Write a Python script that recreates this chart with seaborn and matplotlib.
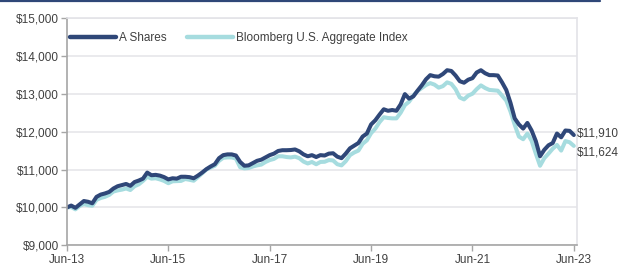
import numpy as np
import pandas as pd
import matplotlib
matplotlib.use("Agg")
import matplotlib.pyplot as plt
import seaborn as sns
from matplotlib.lines import Line2D

sns.set_theme(style="white")
plt.rcParams['font.family'] = ['Liberation Sans', 'DejaVu Sans']

a_shares = [
    10000, 10050, 9990, 10080, 10170, 10150, 10110, 10280, 10340, 10370,
    10410, 10500, 10560, 10590, 10620, 10570, 10670, 10710, 10760, 10920,
    10850, 10860, 10840, 10800, 10740, 10770, 10760, 10810, 10810, 10800,
    10770, 10840, 10920, 11010, 11080, 11140, 11300, 11380, 11400, 11400,
    11370, 11200, 11100, 11110, 11170, 11230, 11260, 11320, 11380, 11420,
    11490, 11510, 11510, 11515, 11530, 11480, 11400, 11350, 11380, 11330,
    11380, 11370, 11420, 11430, 11340, 11300, 11420, 11560, 11630, 11700,
    11870, 11950, 12190, 12300, 12450, 12590, 12550, 12570, 12550, 12720,
    12990, 12870, 12930, 13080, 13220, 13380, 13490, 13460, 13450, 13520,
    13620, 13600, 13480, 13330, 13290, 13370, 13410, 13560, 13620, 13540,
    13490, 13490, 13480, 13300, 13100, 12760, 12350, 12190, 12080, 12230,
    12030, 11750, 11350, 11520, 11640, 11700, 11950, 11850, 12030, 12020,
    11910,
]
bloomberg_agg = [
    10000, 10010, 9950, 10040, 10090, 10060, 10045, 10200, 10250, 10280,
    10330, 10420, 10450, 10470, 10500, 10460, 10560, 10610, 10700, 10810,
    10760, 10770, 10740, 10700, 10640, 10690, 10695, 10700, 10750, 10730,
    10705, 10800, 10900, 11000, 11050, 11100, 11230, 11310, 11320, 11320,
    11290, 11060, 11030, 11040, 11080, 11110, 11130, 11200, 11250, 11280,
    11350, 11350, 11330, 11320, 11340, 11300, 11210, 11160, 11200, 11140,
    11200, 11205, 11250, 11240, 11140, 11110, 11220, 11380, 11450, 11500,
    11680, 11770, 11960, 12080, 12250, 12380, 12360, 12350, 12350, 12500,
    12700, 12790, 12950, 13070, 13150, 13230, 13280, 13240, 13160, 13200,
    13300, 13260, 13120, 12900, 12850, 12950, 13000, 13120, 13220, 13150,
    13100, 13090, 13080, 12950, 12820, 12530, 12180, 11870, 11800, 11950,
    11760, 11420, 11100, 11300, 11420, 11550, 11650, 11500, 11750, 11720,
    11624,
]
series_names = ["A Shares", "Bloomberg U.S. Aggregate Index"]
x_tick_labels = ["Jun-13", "Jun-15", "Jun-17", "Jun-19", "Jun-21", "Jun-23"]
y_ticks = [9000, 10000, 11000, 12000, 13000, 14000, 15000]
end_labels = ["$11,910", "$11,624"]

n = len(a_shares)
month = np.arange(n)
df = pd.DataFrame({
    "month": np.concatenate([month, month]),
    "value": a_shares + bloomberg_agg,
    "series": [series_names[0]] * n + [series_names[1]] * n,
})

dark = "#2F4778"
light = "#A6DCDF"
palette = {series_names[0]: dark, series_names[1]: light}

fig = plt.figure(figsize=(6.2, 2.67), dpi=100)
ax = fig.add_axes([0.108, 0.081, 0.823, 0.852])

sns.lineplot(data=df, x="month", y="value", hue="series", palette=palette,
             hue_order=[series_names[1], series_names[0]],
             linewidth=2.9, ax=ax, legend=False)

ax.set_xlim(0, 120.8)
ax.set_ylim(9000, 15000)
ax.set_yticks(y_ticks)
ax.set_yticklabels([f"${v:,.0f}" for v in y_ticks])
ax.set_xticks(np.arange(0, 121, 24))
ax.set_xticklabels(x_tick_labels)
ax.set_xlabel("")
ax.set_ylabel("")

ax.yaxis.grid(True, color="#E6E6EA", linewidth=1.2)
ax.set_axisbelow(True)
for s in ["top", "right"]:
    ax.spines[s].set_color("#E3E3E8")
    ax.spines[s].set_linewidth(1.2)
for s in ["left", "bottom"]:
    ax.spines[s].set_color("#A6A6A6")
    ax.spines[s].set_linewidth(1.2)

ax.tick_params(axis="both", which="both", colors="#A6A6A6", labelcolor="#404040",
               labelsize=8.5, length=4, width=1, direction="out",
               left=True, bottom=True)
ax.tick_params(axis="x", pad=2)
ax.tick_params(axis="y", pad=2)

handles = [Line2D([0], [0], color=dark, lw=3.2, solid_capstyle="round"),
           Line2D([0], [0], color=light, lw=3.2, solid_capstyle="round")]
ax.legend(handles, series_names, loc="upper left", bbox_to_anchor=(-0.003, 0.96),
          ncol=2, frameon=False, fontsize=8.5, handlelength=3.9,
          handletextpad=0.25, columnspacing=1.7, borderaxespad=0.0,
          labelcolor="#404040")

ax.annotate(end_labels[0], xy=(n - 1, a_shares[-1]), xytext=(2, 1),
            textcoords="offset points", va="center", ha="left",
            fontsize=8.5, color="#404040", annotation_clip=False)
ax.annotate(end_labels[1], xy=(n - 1, bloomberg_agg[-1]), xytext=(2, -5),
            textcoords="offset points", va="center", ha="left",
            fontsize=8.5, color="#404040", annotation_clip=False)

fig.add_artist(Line2D([0, 0.968], [0.996, 0.996], color="#2F4778",
                      lw=1.6, transform=fig.transFigure))

fig.savefig("out.png", dpi=100)
